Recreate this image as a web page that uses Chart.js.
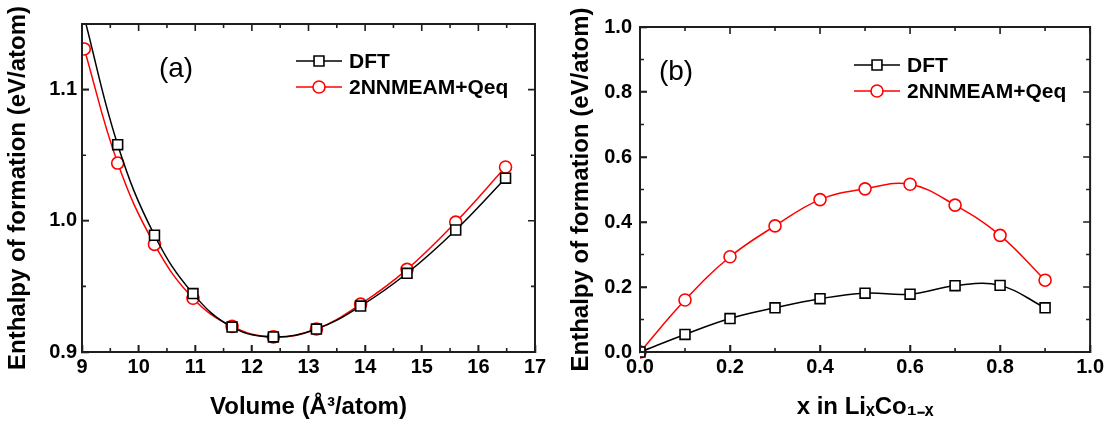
<!DOCTYPE html>
<html lang="en">
<head>
<meta charset="UTF-8">
<title>Enthalpy of formation: DFT vs 2NNMEAM+Qeq</title>
<script src="https://cdn.jsdelivr.net/npm/chart.js"></script>
<style>
  html, body { margin: 0; padding: 0; background: #fff; }
  .row { display: flex; width: 1114px; height: 423px; }
  .panel { height: 423px; }
</style>
</head>
<body>
<div class="row">
  <div class="panel"><canvas id="chart-a" width="560" height="423"></canvas></div>
  <div class="panel"><canvas id="chart-b" width="554" height="423"></canvas></div>
</div>
<script>
// ---- (a) enthalpy vs volume ----
const volumes = [9.04, 9.63, 10.28, 10.96, 11.65, 12.38, 13.14, 13.92, 14.74, 15.60, 16.48];
const dftVolume = [1.155, 1.058, 0.989, 0.9445, 0.919, 0.9115, 0.9175, 0.935, 0.960, 0.993, 1.0325];
const meamVolume = [1.131, 1.044, 0.982, 0.941, 0.9195, 0.9115, 0.9175, 0.9365, 0.963, 0.999, 1.041];
const volumeTicks = [9, 10, 11, 12, 13, 14, 15, 16, 17];
const enthalpyTicksA = [0.9, 1.0, 1.1];

// ---- (b) enthalpy vs x in LixCo1-x ----
const liFraction = [0.0, 0.1, 0.2, 0.3, 0.4, 0.5, 0.6, 0.7, 0.8, 0.9];
const dftMix = [0.0, 0.054, 0.103, 0.136, 0.164, 0.181, 0.178, 0.204, 0.205, 0.136];
const meamMix = [0.0, 0.160, 0.293, 0.388, 0.469, 0.502, 0.516, 0.452, 0.359, 0.221];
const fractionTicks = [0.0, 0.2, 0.4, 0.6, 0.8, 1.0];
const enthalpyTicksB = [0.0, 0.2, 0.4, 0.6, 0.8, 1.0];

const seriesNames = ['DFT', '2NNMEAM+Qeq'];

const FONT = "'Liberation Sans', Arial, Helvetica, sans-serif";
const INK = '#1e1e1e';

// per-canvas decoration settings (frame, ticks, tag, legend placement)
const boxes = {};

// midpoints between majors (plus one beyond, if still inside the range)
function minorTicks(major, min, max) {
  const out = [];
  for (let i = 0; i < major.length - 1; i++) out.push((major[i] + major[i + 1]) / 2);
  const step = major[1] - major[0];
  const extra = major[major.length - 1] + step / 2;
  if (extra < max - 1e-9) out.push(extra);
  const first = major[0] - step / 2;
  if (first > min + 1e-9) out.push(first);
  return out;
}

// frame, inward ticks on four sides, panel tag and the in-plot legend
const boxPlugin = {
  id: 'box',
  afterDraw(chart) {
    const opts = boxes[chart.canvas.id];
    if (!opts) return;
    const ctx = chart.ctx;
    const a = chart.chartArea;
    const x = chart.scales.x, y = chart.scales.y;
    const L = a.left, R = a.right, T = a.top, B = a.bottom;

    ctx.save();
    ctx.strokeStyle = INK;
    ctx.lineWidth = 2;
    ctx.strokeRect(L, T, R - L, B - T);

    ctx.lineWidth = 1.6;
    ctx.beginPath();
    const vtick = (v, len) => {
      const p = x.getPixelForValue(v);
      ctx.moveTo(p, B); ctx.lineTo(p, B - len);
      ctx.moveTo(p, T); ctx.lineTo(p, T + len);
    };
    const htick = (v, len) => {
      const p = y.getPixelForValue(v);
      ctx.moveTo(L, p); ctx.lineTo(L + len, p);
      ctx.moveTo(R, p); ctx.lineTo(R - len, p);
    };
    opts.xMajor.forEach(v => vtick(v, 7));
    minorTicks(opts.xMajor, x.min, x.max).forEach(v => vtick(v, 4));
    opts.yMajor.forEach(v => htick(v, 7));
    minorTicks(opts.yMajor, y.min, y.max).forEach(v => htick(v, 4));
    ctx.stroke();

    // panel tag
    ctx.fillStyle = '#000';
    ctx.font = '28px ' + FONT;
    ctx.textAlign = 'center';
    ctx.textBaseline = 'middle';
    ctx.fillText(opts.tag, L + opts.tagX, T + opts.tagY);

    // legend
    chart.data.datasets.forEach((ds, i) => {
      const lx = L + opts.legendX;
      const ly = T + opts.legendY + i * opts.legendGap;
      ctx.strokeStyle = ds.borderColor;
      ctx.lineWidth = 1.5;
      ctx.beginPath();
      ctx.moveTo(lx, ly); ctx.lineTo(lx + 46, ly);
      ctx.stroke();
      ctx.fillStyle = '#fff';
      ctx.lineWidth = ds.pointBorderWidth;
      Chart.helpers.drawPoint(ctx, {
        pointStyle: ds.pointStyle, radius: ds.legendRadius, rotation: 0, borderWidth: ds.pointBorderWidth
      }, lx + 23, ly);
      ctx.fillStyle = '#000';
      ctx.font = 'bold 21px ' + FONT;
      ctx.textAlign = 'left';
      ctx.textBaseline = 'middle';
      ctx.fillText(ds.label, lx + 53, ly + 1);
    });
    ctx.restore();
  }
};

function series(label, xv, yv, color, style, radius, yMax) {
  return {
    label,
    data: xv.map((v, i) => ({ x: v, y: yv[i] })),
    borderColor: color,
    backgroundColor: '#fff',
    borderWidth: 1.5,
    pointStyle: style,
    pointRadius: c => (c.raw && c.raw.y > yMax ? 0 : radius),
    legendRadius: radius,
    pointBorderWidth: 1.6,
    pointBackgroundColor: '#fff',
    pointBorderColor: color,
    tension: 0.4,
    clip: { left: 0, top: 0, right: 10, bottom: 10 }
  };
}

function axis(opts) {
  return {
    type: 'linear',
    min: opts.min,
    max: opts.max,
    afterBuildTicks: s => { s.ticks = opts.ticks.map(v => ({ value: v })); },
    afterFit: s => { if (opts.width) s.width = opts.width; if (opts.height) s.height = opts.height; },
    // inward major ticks and the axis line come from the scale itself
    grid: {
      display: true,
      drawOnChartArea: false,
      drawTicks: true,
      tickLength: -7,
      tickWidth: 1.6,
      tickColor: INK
    },
    border: { display: true, color: INK, width: 2 },
    ticks: {
      color: '#000',
      font: { family: FONT, size: 20, weight: 'bold' },
      padding: opts.pad,
      autoSkip: false,
      maxRotation: 0,
      callback: v => opts.fmt(v)
    },
    title: {
      display: true,
      text: opts.title,
      color: '#000',
      font: { family: FONT, size: 24, weight: 'bold' },
      padding: opts.titlePad
    }
  };
}

function makeChart(id, cfg) {
  boxes[id] = cfg.box;
  return new Chart(document.getElementById(id), {
    type: 'line',
    data: { datasets: cfg.datasets },
    options: {
      responsive: false,
      animation: false,
      devicePixelRatio: 1,
      events: [],
      layout: { padding: { top: cfg.topPad, right: cfg.rightPad, left: 0, bottom: 0 } },
      plugins: {
        legend: { display: false },
        tooltip: { enabled: false }
      },
      scales: { x: cfg.x, y: cfg.y }
    },
    plugins: [boxPlugin]
  });
}

makeChart('chart-a', {
  topPad: 14,
  rightPad: 25,
  datasets: [
    series(seriesNames[0], volumes, dftVolume, '#000000', 'rect', 7, 1.15),
    series(seriesNames[1], volumes, meamVolume, '#ff0000', 'circle', 6, 1.15)
  ],
  x: axis({ min: 9, max: 17, ticks: volumeTicks, fmt: v => String(v), pad: 10, height: 71,
            title: 'Volume (Å³/atom)', titlePad: { top: 0, bottom: 1 } }),
  y: axis({ min: 0.9, max: 1.15, ticks: enthalpyTicksA, fmt: v => v.toFixed(1), pad: 12, width: 82,
            title: 'Enthalpy of formation (eV/atom)', titlePad: { top: 4, bottom: 0 } }),
  box: { xMajor: volumeTicks, yMajor: enthalpyTicksA, tag: '(a)', tagX: 94, tagY: 45,
         legendX: 214, legendY: 37, legendGap: 26 }
});

makeChart('chart-b', {
  topPad: 11,
  rightPad: 20,
  datasets: [
    series(seriesNames[0], liFraction, dftMix, '#000000', 'rect', 7, 1.0),
    series(seriesNames[1], liFraction, meamMix, '#ff0000', 'circle', 6, 1.0)
  ],
  x: axis({ min: 0, max: 1, ticks: fractionTicks, fmt: v => v.toFixed(1), pad: 10, height: 71,
            title: 'x in LiₓCo₁₋ₓ', titlePad: { top: 0, bottom: 1 } }),
  y: axis({ min: 0, max: 1, ticks: enthalpyTicksB, fmt: v => v.toFixed(1), pad: 15, width: 80,
            title: 'Enthalpy of formation (eV/atom)', titlePad: { top: 7, bottom: 0 } }),
  box: { xMajor: fractionTicks, yMajor: enthalpyTicksB, tag: '(b)', tagX: 36, tagY: 45,
         legendX: 214, legendY: 38, legendGap: 26 }
});
</script>
</body>
</html>
